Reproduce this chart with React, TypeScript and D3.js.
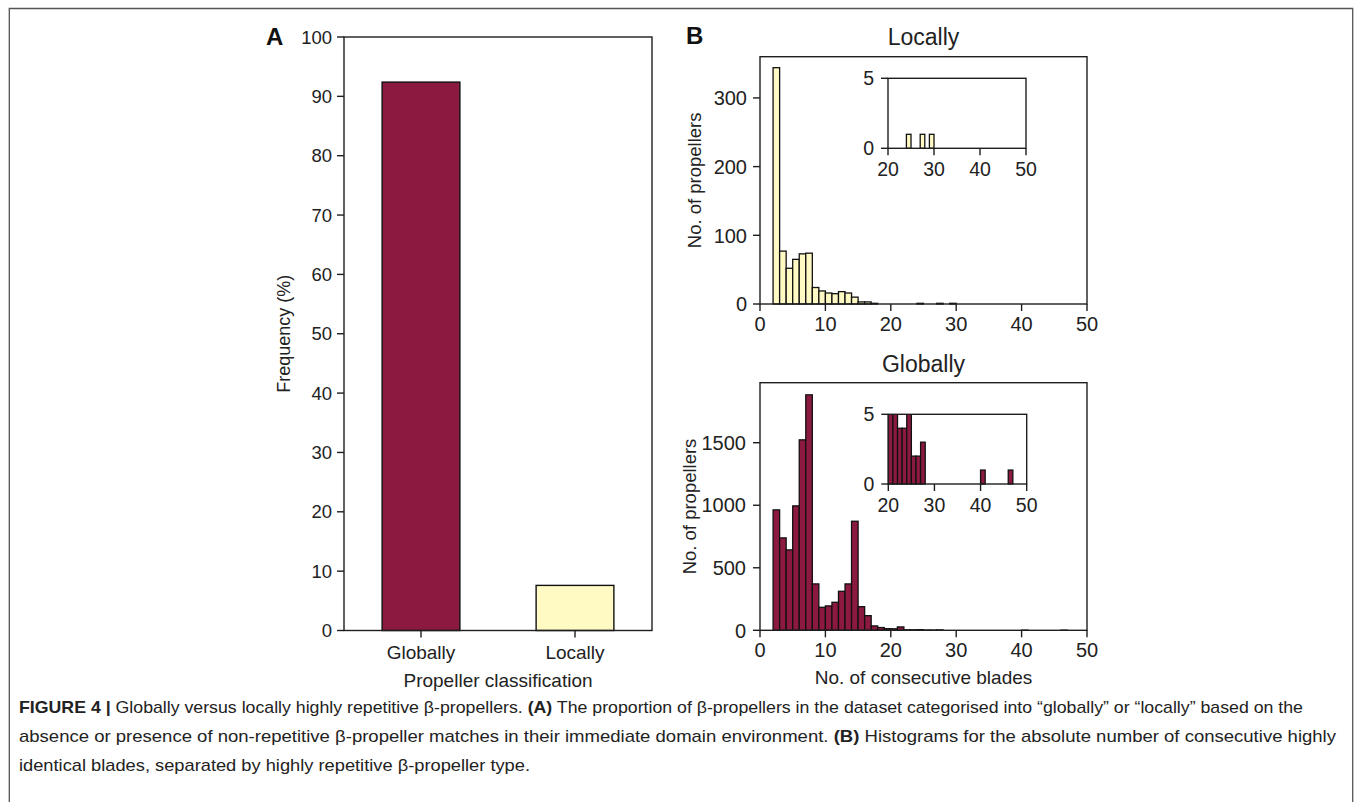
import React from "react";
import * as d3 from "d3";

const categories = ["Globally", "Locally"];
const frequency = [92.4, 7.6];
const freqTicks = [0, 10, 20, 30, 40, 50, 60, 70, 80, 90, 100];

// histogram bins: [bin start, count]
const localBins: [number, number][] = [
  [2, 344], [3, 77], [4, 52], [5, 65], [6, 73], [7, 74], [8, 24], [9, 19],
  [10, 16], [11, 15], [12, 18], [13, 16], [14, 10], [15, 3], [16, 3], [17, 1],
  [24, 1], [27, 1], [29, 1],
];
const globalBins: [number, number][] = [
  [2, 963], [3, 739], [4, 643], [5, 995], [6, 1523], [7, 1883], [8, 371], [9, 184],
  [10, 195], [11, 224], [12, 312], [13, 371], [14, 872], [15, 189], [16, 117], [17, 35],
  [18, 22], [19, 13], [20, 12], [21, 27], [22, 4], [23, 4], [24, 5], [25, 2],
  [26, 2], [27, 3], [40, 1], [46, 1],
];
const localTicksY = [0, 100, 200, 300];
const globalTicksY = [0, 500, 1000, 1500];
const histTicksX = [0, 10, 20, 30, 40, 50];
const insetTicksX = [20, 30, 40, 50];
const insetTicksY = [0, 5];

const WINE = "#8c1a40";
const CREAM = "#fffac4";
const INK = "#1e1e1e";
const FONT = "'Liberation Sans', Arial, sans-serif";

type Box = { l: number; r: number; t: number; b: number };

function Frame({ box }: { box: Box }) {
  return (
    <rect x={box.l} y={box.t} width={box.r - box.l} height={box.b - box.t}
      fill="none" stroke={INK} strokeWidth={1.4} />
  );
}

function Hist({ box, bins, xDom, yDom, ticksX, ticksY, fill, fs, gapY, offX, id }: {
  box: Box; bins: [number, number][]; xDom: [number, number]; yDom: [number, number];
  ticksX: number[]; ticksY: number[]; fill: string; fs: number; gapY: number; offX: number; id: string;
}) {
  const x = d3.scaleLinear().domain(xDom).range([box.l, box.r]);
  const y = d3.scaleLinear().domain(yDom).range([box.b, box.t]);
  const shown = bins.filter(([k]) => k >= xDom[0] && k < xDom[1]);
  return (
    <g>
      <defs>
        <clipPath id={id}>
          <rect x={box.l - 2} y={box.t} width={box.r - box.l + 4} height={box.b - box.t + 2} />
        </clipPath>
      </defs>
      <g clipPath={`url(#${id})`}>
        {shown.map(([k, v]) => (
          <rect key={k} x={x(k)} y={y(v)} width={x(k + 1) - x(k)} height={y(0) - y(v)}
            fill={fill} stroke="#111" strokeWidth={1.3} />
        ))}
      </g>
      <Frame box={box} />
      {ticksX.map((t) => (
        <g key={"x" + t}>
          <line x1={x(t)} x2={x(t)} y1={box.b} y2={box.b + 7} stroke={INK} strokeWidth={1.4} />
          <text x={x(t)} y={box.b + offX} textAnchor="middle" fontSize={fs} fill="#222">{t}</text>
        </g>
      ))}
      {ticksY.map((t) => (
        <g key={"y" + t}>
          <line x1={box.l - 7} x2={box.l} y1={y(t)} y2={y(t)} stroke={INK} strokeWidth={1.4} />
          <text x={box.l - gapY} y={y(t)} dy="0.36em" textAnchor="end" fontSize={fs} fill="#222">{t}</text>
        </g>
      ))}
    </g>
  );
}

export default function App() {
  const A: Box = { l: 344, r: 652, t: 37, b: 630.5 };
  const xA = d3.scalePoint<string>().domain(categories).range([A.l, A.r]).padding(0.5);
  const yA = d3.scaleLinear().domain([0, 100]).range([A.b, A.t]);
  const bw = xA.step() * 0.505;

  const B1: Box = { l: 760, r: 1087, t: 56.7, b: 304 };
  const B1i: Box = { l: 888, r: 1026, t: 78.3, b: 148.3 };
  const B2: Box = { l: 760, r: 1087, t: 382.7, b: 630.3 };
  const B2i: Box = { l: 888.3, r: 1026.7, t: 414.3, b: 484 };

  const fsA = 18.5;
  const fsB = 20;
  const fsI = 19.5;

  return (
    <svg width={1355} height={802} style={{ position: "fixed", left: 0, top: 0, display: "block" }}
      fontFamily={FONT}>
      <rect x={0} y={0} width={1355} height={802} fill="#fff" />
      {/* outer border */}
      <path d="M9.3,812 V8.5 H1352.7 V812" fill="none" stroke="#555" strokeWidth={1.3} />

      {/* Panel A */}
      <text x={266} y={45} fontSize={24} fontWeight="bold" fill="#111">A</text>
      {categories.map((c, i) => (
        <rect key={c} x={(xA(c) as number) - bw / 2} y={yA(frequency[i])} width={bw}
          height={yA(0) - yA(frequency[i])} fill={i === 0 ? WINE : CREAM}
          stroke="#111" strokeWidth={1.4} />
      ))}
      <Frame box={A} />
      {freqTicks.map((t) => (
        <g key={t}>
          <line x1={A.l - 7} x2={A.l} y1={yA(t)} y2={yA(t)} stroke={INK} strokeWidth={1.4} />
          <text x={A.l - 12} y={yA(t)} dy="0.36em" textAnchor="end" fontSize={fsA} fill="#222">{t}</text>
        </g>
      ))}
      {categories.map((c) => (
        <g key={c}>
          <line x1={xA(c)} x2={xA(c)} y1={A.b} y2={A.b + 7} stroke={INK} strokeWidth={1.4} />
          <text x={xA(c)} y={A.b + 28.5} textAnchor="middle" fontSize={19} fill="#222">{c}</text>
        </g>
      ))}
      <text x={(A.l + A.r) / 2} y={687} textAnchor="middle" fontSize={19} fill="#222">Propeller classification</text>
      <text transform={`translate(290,${(A.t + A.b) / 2}) rotate(-90)`} textAnchor="middle"
        fontSize={18} fill="#222">Frequency (%)</text>

      {/* Panel B */}
      <text x={686} y={44} fontSize={24} fontWeight="bold" fill="#111">B</text>
      <text x={(B1.l + B1.r) / 2} y={45} textAnchor="middle" fontSize={23} fill="#222">Locally</text>
      <Hist box={B1} bins={localBins} xDom={[0, 50]} yDom={[0, 360]} ticksX={histTicksX}
        ticksY={localTicksY} fill={CREAM} fs={fsB} gapY={13} offX={26.5} id="c1" />
      <Hist box={B1i} bins={localBins} xDom={[20, 50]} yDom={[0, 5]} ticksX={insetTicksX}
        ticksY={insetTicksY} fill={CREAM} fs={fsI} gapY={14} offX={28} id="c2" />
      <text transform={`translate(701,${(B1.t + B1.b) / 2}) rotate(-90)`} textAnchor="middle"
        fontSize={18.5} fill="#222">No. of propellers</text>

      <text x={(B2.l + B2.r) / 2} y={372} textAnchor="middle" fontSize={23} fill="#222">Globally</text>
      <Hist box={B2} bins={globalBins} xDom={[0, 50]} yDom={[0, 1980]} ticksX={histTicksX}
        ticksY={globalTicksY} fill={WINE} fs={fsB} gapY={14} offX={26.5} id="c3" />
      <Hist box={B2i} bins={globalBins} xDom={[20, 50]} yDom={[0, 5]} ticksX={insetTicksX}
        ticksY={insetTicksY} fill={WINE} fs={fsI} gapY={14} offX={28} id="c4" />
      <text transform={`translate(696,${(B2.t + B2.b) / 2}) rotate(-90)`} textAnchor="middle"
        fontSize={18.5} fill="#222">No. of propellers</text>
      <text x={(B2.l + B2.r) / 2} y={684} textAnchor="middle" fontSize={19} fill="#222">No. of consecutive blades</text>

      {/* Caption */}
      <g fontSize={17} fill="#222">
        <text x={19} y={713} textLength={1284} lengthAdjust="spacingAndGlyphs">
          <tspan fontWeight="bold">FIGURE 4 | </tspan>
          <tspan>Globally versus locally highly repetitive β-propellers. </tspan>
          <tspan fontWeight="bold">(A)</tspan>
          <tspan> The proportion of β-propellers in the dataset categorised into “globally” or “locally” based on the</tspan>
        </text>
        <text x={19} y={742} textLength={1317} lengthAdjust="spacingAndGlyphs">
          <tspan>absence or presence of non-repetitive β-propeller matches in their immediate domain environment. </tspan>
          <tspan fontWeight="bold">(B)</tspan>
          <tspan> Histograms for the absolute number of consecutive highly</tspan>
        </text>
        <text x={19} y={771} textLength={511} lengthAdjust="spacingAndGlyphs">
          identical blades, separated by highly repetitive β-propeller type.
        </text>
      </g>
    </svg>
  );
}
